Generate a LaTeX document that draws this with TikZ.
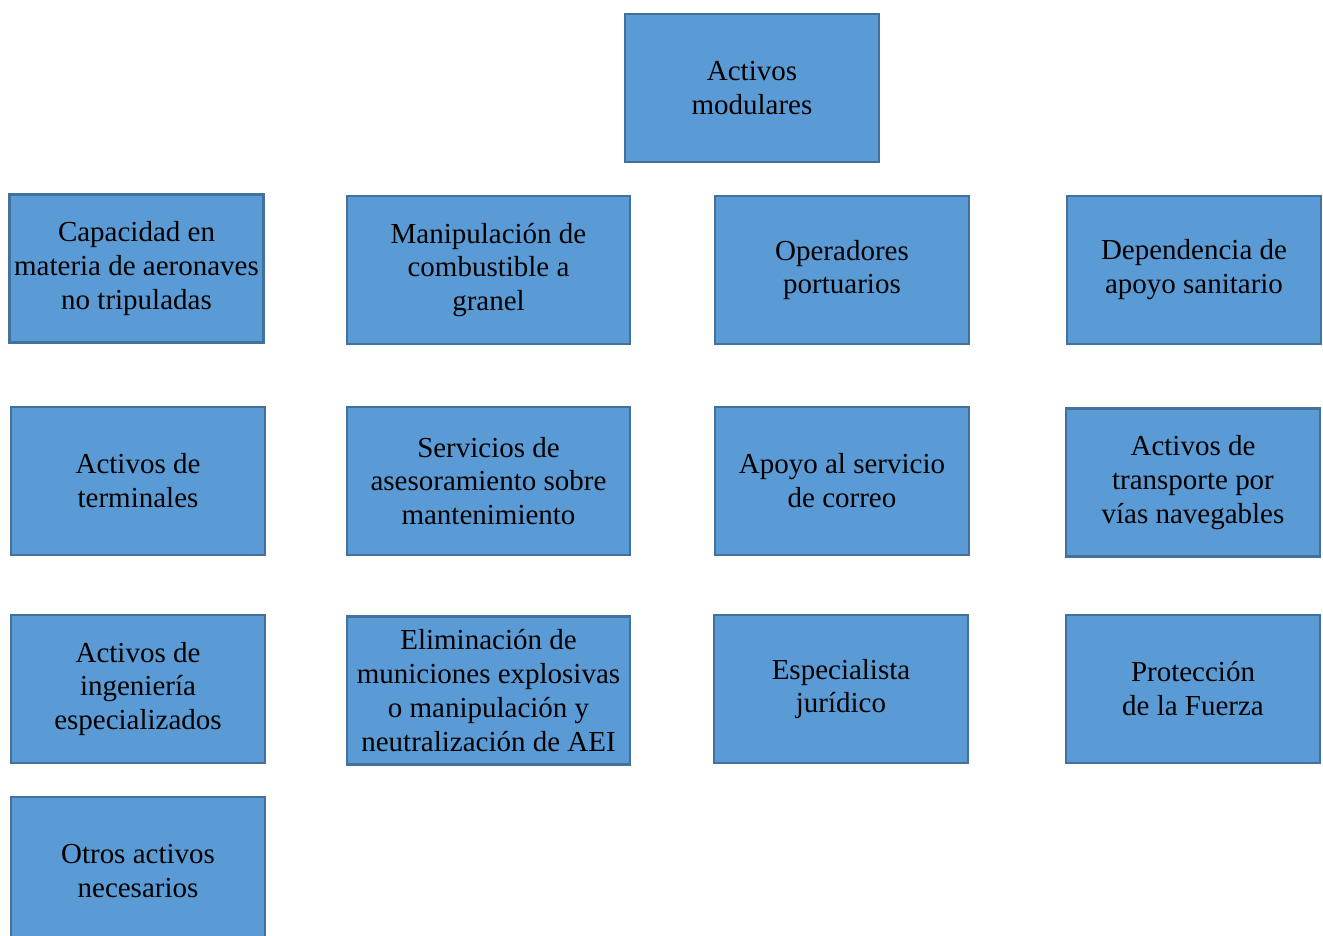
\documentclass[tikz,border=0pt]{standalone}
\usepackage{fontspec}
\setmainfont{Liberation Serif}
\usetikzlibrary{positioning}

\definecolor{boxfill}{HTML}{5B9BD5}
\definecolor{boxline}{HTML}{41719C}

\tikzset{
    asset/.style={draw=boxline, fill=boxfill, line width=1.4pt, align=center,
        minimum width=5.08cm, minimum height=2.96cm, inner sep=0pt,
        font=\fontsize{16.5}{19.3}\selectfont},
    wideasset/.style={asset, minimum width=5.66cm},
}

\begin{document}
\begin{tikzpicture}[x=0.02cm, y=-0.02cm]
    \useasboundingbox (0,0) rectangle (1323,936);
    \clip (0,0) rectangle (1323,936);
    % top
    \node[asset] (top) at (752,88) {Activos\\modulares};
    % first row
    \node[asset] (uav) at (136.5,268.5) {Capacidad en\\materia de aeronaves\\no tripuladas};
    \node[wideasset] (fuel) at (488.5,270) {Manipulación de\\combustible a\\granel};
    \node[asset] (port) at (842,270) {Operadores\\portuarios};
    \node[asset] (med) at (1194,270) {Dependencia de\\apoyo sanitario};
    % second row
    \node[asset] (term) at (138,481) {Activos de\\terminales};
    \node[wideasset] (maint) at (488.5,481) {Servicios de\\asesoramiento sobre\\mantenimiento};
    \node[asset] (mail) at (842,481) {Apoyo al servicio\\de correo};
    \node[asset] (water) at (1193,482.5) {Activos de\\transporte por\\vías navegables};
    % third row
    \node[asset] (eng) at (138,689) {Activos de\\ingeniería\\especializados};
    \node[wideasset] (eod) at (488.5,690.5) {Eliminación de\\municiones explosivas\\o manipulación y\\neutralización de AEI};
    \node[asset] (legal) at (841,689) {Especialista\\jurídico};
    \node[asset] (prot) at (1193,689) {Protección\\de la Fuerza};
    % last row
    \node[asset] (other) at (138,871) {Otros activos\\necesarios};
\end{tikzpicture}
\end{document}
